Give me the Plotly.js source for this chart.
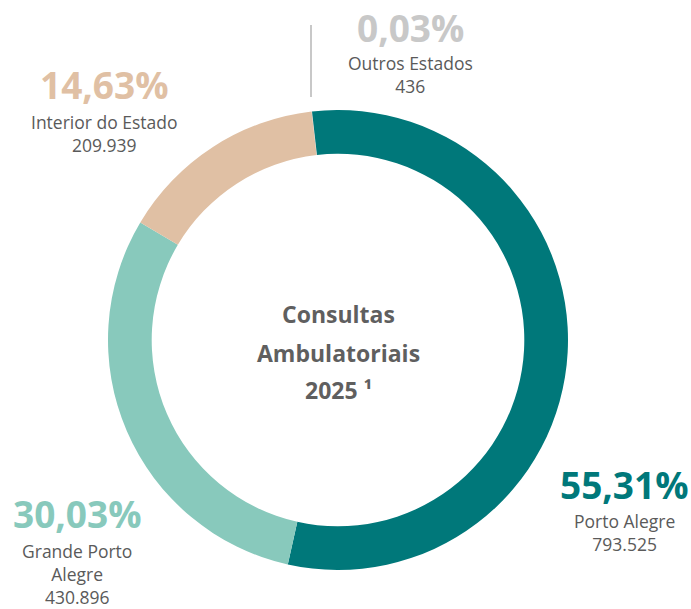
<!DOCTYPE html>
<html>
<head>
<meta charset="utf-8">
<script src="https://cdn.plot.ly/plotly-3.0.1.min.js"></script>
<style>
  html, body { margin: 0; padding: 0; background: #ffffff; }
  #chart { width: 691px; height: 609px; }
</style>
</head>
<body>
<div id="chart"></div>
<script>
// dados do gráfico
var regioes = ["Outros Estados", "Porto Alegre", "Grande Porto Alegre", "Interior do Estado"];
var rotulos = ["Outros Estados", "Porto Alegre", "Grande Porto<br>Alegre", "Interior do Estado"];
var consultas = [436, 793525, 430896, 209939];
var cores = ["#c8c8c8", "#00787a", "#88c9bc", "#e0c0a4"];
var tituloCentro = ["Consultas", "Ambulatoriais", "2025 ¹"];

// posição dos textos (em pixels da imagem)
var posPct = [[410, 27], [624, 484], [77, 513], [104, 85]];
var posRot = [[410, 75], [624, 532], [77, 574], [104, 133]];
var posCentro = [[338, 314], [338, 353], [338, 390]];

var W = 691, H = 609;
var fonte = "'Open Sans', 'Noto Sans', sans-serif";

var total = consultas.reduce(function(a, b){ return a + b; }, 0);

function pct(v){
	return (v / total * 100).toFixed(2).replace(".", ",") + "%";
}
function milhar(v){
	return v.toString().replace(/\B(?=(\d{3})+(?!\d))/g, ".");
}

var annotations = [];
for (let i = 0; i < regioes.length; i++){
	annotations.push({
		xref: "paper", yref: "paper",
		x: posPct[i][0] / W, y: 1 - posPct[i][1] / H,
		xanchor: "center", yanchor: "middle",
		text: "<b>" + pct(consultas[i]) + "</b>",
		showarrow: false,
		font: {family: fonte, size: 37, color: cores[i]}
	});
	annotations.push({
		xref: "paper", yref: "paper",
		x: posRot[i][0] / W, y: 1 - posRot[i][1] / H,
		xanchor: "center", yanchor: "middle",
		text: rotulos[i] + "<br>" + milhar(consultas[i]),
		showarrow: false,
		font: {family: fonte, size: 17.5, color: "#5a5a5a"}
	});
}

// título no centro da rosca, uma linha por vez
for (let i = 0; i < tituloCentro.length; i++){
	annotations.push({
		xref: "paper", yref: "paper",
		x: posCentro[i][0] / W, y: 1 - posCentro[i][1] / H,
		xanchor: "center", yanchor: "middle",
		text: "<b>" + tituloCentro[i] + "</b>",
		showarrow: false,
		font: {family: fonte, size: 23, color: "#5f5f5f"}
	});
}

var trace = {
	type: "pie",
	labels: regioes,
	values: consultas,
	sort: false,
	direction: "clockwise",
	rotation: -6.6,
	hole: 0.81,
	marker: {colors: cores, line: {width: 0}},
	textinfo: "none",
	hoverinfo: "none",
	domain: {x: [108 / W, 568 / W], y: [1 - 570 / H, 1 - 110 / H]}
};

var layout = {
	width: W, height: H,
	margin: {l: 0, r: 0, t: 0, b: 0},
	showlegend: false,
	paper_bgcolor: "#ffffff",
	annotations: annotations,
	shapes: [{
		type: "line", xref: "paper", yref: "paper",
		x0: 311 / W, x1: 311 / W, y0: 1 - 25 / H, y1: 1 - 97 / H,
		line: {color: "#c8c8c8", width: 2}
	}]
};

Plotly.newPlot(document.getElementById("chart"), [trace], layout, {responsive: false, displayModeBar: false});
</script>
</body>
</html>
